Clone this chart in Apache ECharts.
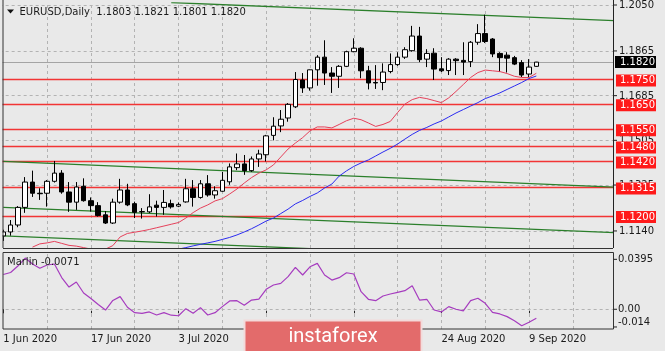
<!DOCTYPE html>
<html>
<head>
<meta charset="utf-8">
<script src="https://cdn.jsdelivr.net/npm/echarts@6/dist/echarts.min.js"></script>
<style>
  html, body { margin: 0; padding: 0; background: #e9e9e9; }
  #chart { width: 665px; height: 351px; }
</style>
</head>
<body>
<div id="chart"></div>
<script>
// EURUSD daily, 1 Jun - 10 Sep 2020 (74 bars)
const dateTicks = ['1 Jun 2020', '17 Jun 2020', '3 Jul 2020', '21 Jul 2020', '6 Aug 2020', '24 Aug 2020', '9 Sep 2020']

const opens = [1.1120, 1.1136, 1.1164, 1.1235, 1.1337, 1.1292, 1.1292, 1.1340, 1.1373, 1.1297,
  1.1256, 1.1320, 1.1262, 1.1242, 1.1205, 1.1172, 1.1256, 1.1305, 1.1250, 1.1218,
  1.1217, 1.1244, 1.1235, 1.1250, 1.1240, 1.1257, 1.1310, 1.1275, 1.1330, 1.1285,
  1.1300, 1.1338, 1.1395, 1.1410, 1.1383, 1.1430, 1.1447, 1.1525, 1.1563, 1.1595,
  1.1640, 1.1748, 1.1716, 1.1789, 1.1840, 1.1776, 1.1763, 1.1803, 1.1862, 1.1876,
  1.1785, 1.1738, 1.1738, 1.1782, 1.1810, 1.1840, 1.1866, 1.1925, 1.1832, 1.1856,
  1.1793, 1.1786, 1.1832, 1.1827, 1.1822, 1.1900, 1.1935, 1.1913, 1.1855, 1.1848,
  1.1838, 1.1818, 1.1772, 1.1803]
const highs = [1.1145, 1.1184, 1.1240, 1.1357, 1.1383, 1.1312, 1.1345, 1.1422, 1.1385, 1.1337,
  1.1337, 1.1352, 1.1275, 1.1256, 1.1220, 1.1270, 1.1350, 1.1330, 1.1258, 1.1232,
  1.1288, 1.1262, 1.1305, 1.1266, 1.1255, 1.1350, 1.1345, 1.1345, 1.1365, 1.1320,
  1.1378, 1.1412, 1.1452, 1.1446, 1.1440, 1.1467, 1.1527, 1.1598, 1.1627, 1.1655,
  1.1780, 1.1776, 1.1790, 1.1848, 1.1908, 1.1800, 1.1808, 1.1866, 1.1916, 1.1880,
  1.1805, 1.1808, 1.1815, 1.1855, 1.1860, 1.1880, 1.1966, 1.1962, 1.1872, 1.1876,
  1.1840, 1.1836, 1.1836, 1.1900, 1.1905, 1.1973, 1.2011, 1.1917, 1.1860, 1.1860,
  1.1845, 1.1828, 1.1832, 1.1821]
const lows = [1.1100, 1.1121, 1.1155, 1.1213, 1.1277, 1.1265, 1.1238, 1.1335, 1.1290, 1.1217,
  1.1225, 1.1258, 1.1218, 1.1198, 1.1168, 1.1168, 1.1250, 1.1240, 1.1192, 1.1190,
  1.1212, 1.1198, 1.1205, 1.1230, 1.1236, 1.1254, 1.1238, 1.1270, 1.1278, 1.1270,
  1.1298, 1.1326, 1.1385, 1.1366, 1.1378, 1.1398, 1.1420, 1.1505, 1.1538, 1.1580,
  1.1635, 1.1696, 1.1705, 1.1725, 1.1728, 1.1696, 1.1716, 1.1800, 1.1860, 1.1755,
  1.1710, 1.1712, 1.1707, 1.1775, 1.1805, 1.1833, 1.1862, 1.1820, 1.1800, 1.1748,
  1.1780, 1.1768, 1.1768, 1.1768, 1.1800, 1.1890, 1.1897, 1.1840, 1.1780, 1.1778,
  1.1808, 1.1760, 1.1760, 1.1801]
const closes = [1.1136, 1.1164, 1.1235, 1.1337, 1.1292, 1.1290, 1.1340, 1.1373, 1.1297, 1.1256,
  1.1317, 1.1262, 1.1242, 1.1202, 1.1172, 1.1256, 1.1305, 1.1245, 1.1215, 1.1217,
  1.1237, 1.1235, 1.1255, 1.1237, 1.1247, 1.1310, 1.1275, 1.1330, 1.1285, 1.1302,
  1.1344, 1.1398, 1.1410, 1.1383, 1.1430, 1.1450, 1.1523, 1.1562, 1.1590, 1.1650,
  1.1750, 1.1716, 1.1789, 1.1840, 1.1776, 1.1763, 1.1803, 1.1862, 1.1876, 1.1785,
  1.1736, 1.1736, 1.1780, 1.1810, 1.1840, 1.1870, 1.1925, 1.1830, 1.1855, 1.1792,
  1.1785, 1.1832, 1.1826, 1.1820, 1.1900, 1.1935, 1.1903, 1.1853, 1.1838, 1.1836,
  1.1812, 1.1768, 1.1800, 1.1820]

// moving averages as drawn on the chart
const maRed = [null, null, null, null, 1.1075, 1.1088, 1.1092, 1.1098, 1.1090, 1.1082,
  1.1079, 1.1073, 1.1067, 1.1063, 1.1067, 1.1081, 1.1116, 1.1130, 1.1135, 1.1140,
  1.1146, 1.1153, 1.1160, 1.1167, 1.1174, 1.1192, 1.1214, 1.1232, 1.1245, 1.1261,
  1.1270, 1.1289, 1.1309, 1.1333, 1.1355, 1.1373, 1.1386, 1.1406, 1.1438, 1.1470,
  1.1494, 1.1516, 1.1543, 1.1559, 1.1559, 1.1555, 1.1569, 1.1584, 1.1594, 1.1588,
  1.1575, 1.1561, 1.1569, 1.1581, 1.1617, 1.1651, 1.1669, 1.1678, 1.1673, 1.1665,
  1.1657, 1.1676, 1.1702, 1.1730, 1.1758, 1.1778, 1.1788, 1.1785, 1.1782, 1.1774,
  1.1763, 1.1758, 1.1758, 1.1775]
const maBlue = [null, null, null, null, null, null, null, null, null, null,
  null, null, null, null, null, null, null, null, null, null,
  null, null, null, null, 1.1067, 1.1073, 1.1080, 1.1086, 1.1092, 1.1098,
  1.1106, 1.1114, 1.1124, 1.1136, 1.1149, 1.1164, 1.1180, 1.1192, 1.1210, 1.1228,
  1.1249, 1.1263, 1.1279, 1.1293, 1.1313, 1.1329, 1.1361, 1.1382, 1.1400, 1.1414,
  1.1426, 1.1442, 1.1458, 1.1473, 1.1490, 1.1510, 1.1529, 1.1545, 1.1557, 1.1571,
  1.1583, 1.1599, 1.1615, 1.1629, 1.1643, 1.1657, 1.1673, 1.1684, 1.1696, 1.1710,
  1.1724, 1.1738, 1.1754, 1.1764]

const marlin = [0.0275, 0.0291, 0.0342, 0.0405, 0.0358, 0.0324, 0.0350, 0.0358, 0.0251, 0.0176,
  0.0216, 0.0129, 0.0085, 0.0038, -0.0006, 0.0070, 0.0100, 0.0016, -0.0027, -0.0032,
  -0.0021, -0.0045, -0.0027, -0.0047, -0.0051, 0.0005, -0.0032, 0.0013, -0.0045, -0.0027,
  0.0021, 0.0066, 0.0068, 0.0032, 0.0073, 0.0081, 0.0158, 0.0192, 0.0205, 0.0258,
  0.0332, 0.0271, 0.0336, 0.0363, 0.0271, 0.0231, 0.0250, 0.0289, 0.0279, 0.0139,
  0.0079, 0.0068, 0.0105, 0.0121, 0.0134, 0.0147, 0.0186, 0.0073, 0.0079, -0.0006,
  -0.0021, 0.0021, 0.0000, -0.0013, 0.0068, 0.0087, 0.0047, -0.0024, -0.0037, -0.0058,
  -0.0090, -0.0130, -0.0103, -0.0071]

// horizontal levels and trend lines ([bar index, price] pairs)
const levels = [1.1750, 1.1650, 1.1550, 1.1480, 1.1420, 1.1315, 1.1200]
const trendLines = [
  [[23, 1.2060], [84, 1.1987]],
  [[0, 1.1420], [84, 1.1316]],
  [[0, 1.1235], [84, 1.1133]],
  [[0, 1.1120], [42, 1.1069]]
]
const priceTicks = [1.2050, 1.1865, 1.1685, 1.1505, 1.1325, 1.1140]
const marlinTicks = [0.0395, 0.00, -0.014]
const marlinTickText = ['0.0395', '0.00', '-0.014']
const lastPrice = 1.1820

const BG = '#e9e9e9'
const FONT = '"DejaVu Sans", sans-serif'
const N_SLOTS = 84
const cats = Array.from({ length: N_SLOTS }, (_, i) => String(i))
const vGrid = Array.from({ length: 13 }, (_, k) => (k + 1) * 6)
const gridDash = { color: '#b3b3b3', type: [3, 3], width: 1 }

const chart = echarts.init(document.getElementById('chart'))

const hiddenAxis = {
  axisLine: { show: false }, axisTick: { show: false },
  axisLabel: { show: false }, splitLine: { show: false }
}

chart.setOption({
  backgroundColor: BG,
  animation: false,
  grid: [
    { left: -0.35, top: 3, width: 613.35, height: 245, outerBoundsMode: 'none' },
    { left: -0.35, top: 252, width: 613.35, height: 77, outerBoundsMode: 'none' }
  ],
  xAxis: [
    Object.assign({ type: 'category', gridIndex: 0, data: cats, boundaryGap: true }, hiddenAxis),
    {
      type: 'category', gridIndex: 1, data: cats, boundaryGap: true,
      axisLine: { show: false },
      axisTick: { show: true, alignWithLabel: true, interval: 11, length: 4, lineStyle: { color: '#222' } },
      axisLabel: {
        interval: 11, align: 'left', margin: 5, fontSize: 10, fontFamily: FONT, color: '#1a1a1a',
        formatter: (v, i) => dateTicks[i / 12] || ''
      },
      splitLine: { show: false }
    }
  ],
  yAxis: [
    Object.assign({ type: 'value', gridIndex: 0, position: 'right', min: 1.10714, max: 1.20581 }, hiddenAxis),
    Object.assign({ type: 'value', gridIndex: 1, position: 'right', min: -0.0156, max: 0.0453 }, hiddenAxis)
  ],
  series: [
    {
      // helper: grid and bid line
      type: 'line', xAxisIndex: 0, yAxisIndex: 0, data: closes, symbol: 'none', silent: true,
      lineStyle: { width: 0, opacity: 0 }, z: 1,
      markLine: {
        silent: true, symbol: ['none', 'none'], z: 1, precision: 6, label: { show: false },
        lineStyle: gridDash,
        data: priceTicks.map(v => ({ yAxis: v })).concat(vGrid.map(i => ({ xAxis: i })))
          .concat([{ yAxis: lastPrice, lineStyle: { color: '#a4a4a4', type: 'solid', width: 1 } }])
      }
    },
    {
      // helper: horizontal levels
      type: 'line', xAxisIndex: 0, yAxisIndex: 0, data: closes, symbol: 'none', silent: true,
      lineStyle: { width: 0, opacity: 0 }, z: 2,
      markLine: {
        silent: true, symbol: ['none', 'none'], z: 2, precision: 6, label: { show: false },
        lineStyle: { color: '#f23535', type: 'solid', width: 1.3 },
        data: levels.map(v => ({ yAxis: v }))
      }
    },
    ...trendLines.map(seg => ({
      type: 'line', xAxisIndex: 0, yAxisIndex: 0, data: seg, symbol: 'none', silent: true,
      clip: true, z: 2, lineStyle: { color: '#2b7f2b', width: 1.3 }
    })),
    {
      type: 'candlestick', xAxisIndex: 0, yAxisIndex: 0, barWidth: 5, z: 3,
      data: opens.map((o, i) => [o, closes[i], lows[i], highs[i]]),
      itemStyle: {
        color: '#ffffff', color0: '#000000',
        borderColor: '#000000', borderColor0: '#000000', borderColorDoji: '#000000', borderWidth: 1
      }
    },
    {
      type: 'line', xAxisIndex: 0, yAxisIndex: 0, data: maRed, symbol: 'none', clip: true, z: 4,
      lineStyle: { color: '#e5405a', width: 1 }
    },
    {
      type: 'line', xAxisIndex: 0, yAxisIndex: 0, data: maBlue, symbol: 'none', clip: true, z: 4,
      lineStyle: { color: '#2b2bf0', width: 1 }
    },
    {
      type: 'line', xAxisIndex: 1, yAxisIndex: 1, data: marlin, symbol: 'none', z: 4,
      lineStyle: { color: '#a63cbf', width: 1.2 },
      markLine: {
        silent: true, symbol: ['none', 'none'], z: 1, precision: 6, label: { show: false },
        lineStyle: gridDash,
        data: [{ yAxis: 0 }].concat(vGrid.map(i => ({ xAxis: i })))
      }
    }
  ]
})

// right-hand labels, frames, captions
const py = v => chart.convertToPixel({ yAxisIndex: 0 }, v)
const my = v => chart.convertToPixel({ yAxisIndex: 1 }, v)
const g = []
const txt = (x, y, text, fill, z, font) => ({
  type: 'text', x, y, z,
  style: { text, fill, font: font || '10px ' + FONT, align: 'left', verticalAlign: 'middle',
    textAlign: 'left', textVerticalAlign: 'middle' }
})
const ln = (x1, y1, x2, y2, stroke, z) => ({
  type: 'line', z, shape: { x1, y1, x2, y2 }, style: { stroke, lineWidth: 1 }
})

g.push({ type: 'rect', z: 50, shape: { x: 0, y: 0, width: 2.5, height: 351 }, style: { fill: BG } })
g.push(ln(3, 0, 3, 248, '#333', 51))
g.push(ln(3, 248.5, 613, 248.5, '#333', 51))
g.push(ln(613.5, 0, 613.5, 248, '#222', 51))
g.push({ type: 'rect', z: 51, shape: { x: 3, y: 252.5, width: 610.5, height: 76.5 }, style: { fill: 'none', stroke: '#333', lineWidth: 1 } })

priceTicks.forEach(v => {
  const y = py(v)
  g.push(ln(613.5, y, 617, y, '#222', 52))
  g.push(txt(619, y + 0.5, v.toFixed(4), '#1a1a1a', 52))
})
levels.forEach(v => {
  const y = py(v)
  g.push({ type: 'rect', z: 53, shape: { x: 616, y: y - 5, width: 40, height: 12 }, style: { fill: '#ff1a1a' } })
  g.push(txt(620, y + 1, v.toFixed(4), '#ffffff', 54))
})
{
  const y = py(lastPrice)
  g.push({ type: 'rect', z: 53, shape: { x: 615, y: y - 6, width: 41, height: 12 }, style: { fill: '#000000' } })
  g.push(txt(620, y, lastPrice.toFixed(4), '#ffffff', 54))
}
marlinTicks.forEach((v, k) => {
  const y = Math.min(my(v), 322)
  g.push(ln(613.5, my(v), 617, my(v), '#222', 52))
  g.push(txt(618, y, marlinTickText[k], '#1a1a1a', 52))
})

const last = opens.length - 1
g.push({ type: 'polygon', z: 55, shape: { points: [[7, 9.5], [14, 9.5], [10.5, 13.5]] }, style: { fill: '#111' } })
g.push(txt(19.5, 12, 'EURUSD,Daily  ' + [opens[last], highs[last], lows[last], closes[last]].map(v => v.toFixed(4)).join(' '), '#1a1a1a', 55))
g.push(txt(7, 262, 'Marlin ' + marlin[last].toFixed(4), '#1a1a1a', 55))

// watermark
g.push({ type: 'rect', z: 60, shape: { x: 244.5, y: 320.5, width: 177, height: 34 }, style: { fill: '#e36b6b', stroke: '#f3dada', lineWidth: 2 } })
g.push({
  type: 'text', z: 61, x: 333, y: 337,
  style: { text: 'instaforex', fill: '#ffffff', font: '20px Roboto, sans-serif', align: 'center', verticalAlign: 'middle',
    textAlign: 'center', textVerticalAlign: 'middle' }
})

chart.setOption({ graphic: g })
</script>
</body>
</html>
